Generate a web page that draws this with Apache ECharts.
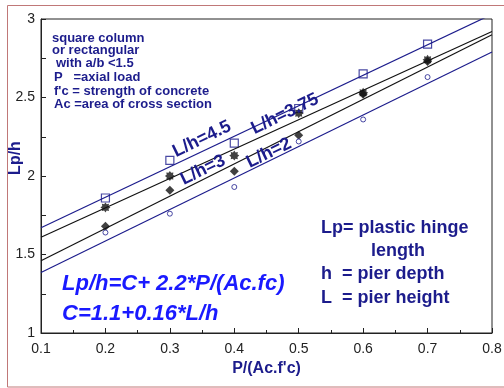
<!DOCTYPE html>
<html>
<head>
<meta charset="utf-8">
<script src="https://cdn.jsdelivr.net/npm/echarts@6/dist/echarts.min.js"></script>
<style>
html, body { margin: 0; padding: 0; background: #fff; }
#echarts { width: 504px; height: 388px; }
</style>
</head>
<body>
<div id="echarts"></div>
<script>
// 数据
var xTicks = [0.1, 0.2, 0.3, 0.4, 0.5, 0.6, 0.7, 0.8];
var yTicks = [1, 1.5, 2, 2.5, 3];
var px = [0.2, 0.3, 0.4, 0.5, 0.6, 0.7];
var squares  = [1.86, 2.10, 2.21, 2.43, 2.65, 2.84];
var stars    = [1.80, 2.00, 2.13, 2.40, 2.53, 2.74];
var diamonds = [1.68, 1.91, 2.03, 2.26, 2.52, 2.73];
var circles  = [1.64, 1.76, 1.93, 2.22, 2.36, 2.63];
// fitted lines, [x, y] end points
var lineTopBlue   = [[0.1, 1.67], [0.8, 3.03]];
var lineUpBlack   = [[0.1, 1.61], [0.8, 2.92]];
var lineLowBlack  = [[0.1, 1.46], [0.8, 2.90]];
var lineLowBlue   = [[0.1, 1.385], [0.8, 2.79]];

var navy = '#1c1c8c';
var black = '#111';
var font = '"Liberation Sans", Arial, sans-serif';

function pairs(xs, ys) {
    return xs.map(function (x, i) { return [x, ys[i]]; });
}

var starPath = 'path://M0,-10L2.6,-6.3L7.1,-7.1L6.3,-2.6L10,0L6.3,2.6L7.1,7.1L2.6,6.3L0,10L-2.6,6.3L-7.1,7.1L-6.3,2.6L-10,0L-6.3,-2.6L-7.1,-7.1L-2.6,-6.3Z';

var myChart = echarts.init(document.getElementById('echarts'));
var rot = 26 * Math.PI / 180;

function txt(x, y, s, size, color, opts) {
    opts = opts || {};
    return {
        type: 'text', x: x, y: y, rotation: opts.rotation || 0, z: 100,
        style: {
            text: s, fill: color, font: (opts.italic ? 'italic ' : '') + 'bold ' + size + 'px ' + font,
            textAlign: opts.align || 'left', textVerticalAlign: 'middle'
        }
    };
}

option = {
    animation: false,
    backgroundColor: '#fff',
    grid: {
        left: 41, right: 12, top: 19, bottom: 55,
        outerBoundsMode: 'none', containLabel: false,
        show: true, borderColor: '#222', borderWidth: 1
    },
    xAxis: {
        type: 'value', min: 0.1, max: 0.8, interval: 0.1,
        name: "P/(Ac.f'c)", nameLocation: 'middle', nameGap: 27,
        nameTextStyle: { color: navy, fontSize: 16, fontWeight: 'bold', fontFamily: font },
        axisLine: { show: true, lineStyle: { color: '#222' } },
        axisTick: { inside: true, length: 5, lineStyle: { color: '#222' } },
        minorTick: { show: true, splitNumber: 2, length: 3, lineStyle: { color: '#222' } },
        splitLine: { show: false },
        axisLabel: {
            color: '#222', fontSize: 14, fontFamily: font, margin: 9,
            formatter: function (v) { return (+v).toFixed(1); }
        }
    },
    yAxis: {
        type: 'value', min: 1, max: 3, interval: 0.5,
        axisLine: { show: true, lineStyle: { color: '#222' } },
        axisTick: { inside: true, length: 5, lineStyle: { color: '#222' } },
        minorTick: { show: true, splitNumber: 2, length: 5, lineStyle: { color: '#222' } },
        splitLine: { show: false },
        axisLabel: { color: '#222', fontSize: 14, fontFamily: font, margin: 6 }
    },
    series: [
        { type: 'line', data: lineTopBlue, symbol: 'none', lineStyle: { color: navy, width: 1.2 } },
        { type: 'line', data: lineUpBlack, symbol: 'none', lineStyle: { color: black, width: 1.2 } },
        { type: 'line', data: lineLowBlack, symbol: 'none', lineStyle: { color: black, width: 1.2 } },
        { type: 'line', data: lineLowBlue, symbol: 'none', lineStyle: { color: navy, width: 1.2 } },
        {
            type: 'scatter', data: pairs(px, squares), symbol: 'rect', symbolSize: 8,
            itemStyle: { color: 'rgba(255,255,255,0)', borderColor: navy, borderWidth: 1.2 }
        },
        {
            type: 'scatter', data: pairs(px, stars), symbol: starPath, symbolSize: 10,
            itemStyle: { color: black }
        },
        {
            type: 'scatter', data: pairs(px, diamonds), symbol: 'diamond', symbolSize: 9,
            itemStyle: { color: black }
        },
        {
            type: 'scatter', data: pairs(px, circles), symbol: 'circle', symbolSize: 5,
            itemStyle: { color: '#fff', borderColor: navy, borderWidth: 1 }
        }
    ],
    graphic: [
        {
            type: 'rect', shape: { x: 7.5, y: 5.5, width: 510, height: 381.5 }, z: -1,
            style: { fill: 'none', stroke: '#c07878', lineWidth: 1 }
        },
        txt(16, 158, 'Lp/h', 16, navy, { rotation: Math.PI / 2, align: 'center' }),
        txt(52, 38, 'square column', 13, navy),
        txt(52, 50, 'or rectangular', 13, navy),
        txt(56, 63.5, 'with a/b <1.5', 13, navy),
        txt(54, 77.5, 'P   =axial load', 13, navy),
        txt(54, 91, "f'c = strength of concrete", 13, navy),
        txt(54, 104.5, 'Ac =area of cross section', 13, navy),
        txt(202, 139, 'L/h=4.5', 18, navy, { rotation: rot, align: 'center' }),
        txt(285, 114, 'L/h=3.75', 18, navy, { rotation: rot, align: 'center' }),
        txt(203, 170, 'L/h=3', 18, navy, { rotation: rot, align: 'center' }),
        txt(269, 153, 'L/h=2', 18, navy, { rotation: rot, align: 'center' }),
        txt(321, 228, 'Lp= plastic hinge', 18, navy),
        txt(398, 251, 'length', 18, navy, { align: 'center' }),
        txt(321, 274, 'h  = pier depth', 18, navy),
        txt(321, 298, 'L  = pier height', 18, navy),
        txt(62, 284, 'Lp/h=C+ 2.2*P/(Ac.fc)', 22, '#1a1aff', { italic: true }),
        txt(62, 314, 'C=1.1+0.16*L/h', 22, '#1a1aff', { italic: true })
    ]
};
myChart.setOption(option);
</script>
</body>
</html>
